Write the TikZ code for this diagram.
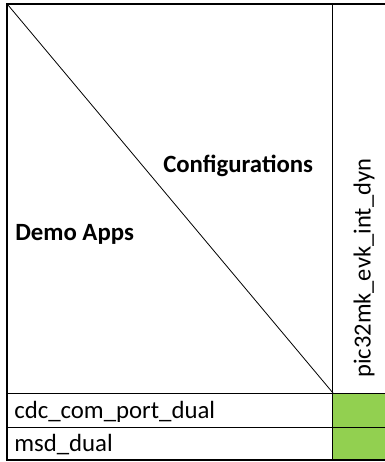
\documentclass[tikz,border=0pt]{standalone}
\usepackage{fontspec}
\setmainfont{Carlito}
\definecolor{cellgreen}{HTML}{92D050}
\begin{document}
\begin{tikzpicture}[x=0.75pt,y=-0.75pt,
  outer/.style={line width=1.5pt,black},
  inner/.style={line width=0.75pt,black},
  diag/.style={line width=0.6pt,black},
  txt/.style={inner sep=0pt,anchor=base west,font=\fontsize{18.6}{22}\selectfont},
  btxt/.style={txt,font=\fontsize{18.6}{22}\selectfont\bfseries}]
\useasboundingbox (0,0) rectangle (385,462);
\fill[cellgreen] (333,393) rectangle (385,460);
\draw[diag] (8,5) -- (333,393);
\draw[inner] (333,4) -- (333,460);
\draw[inner] (7,393) -- (385,393);
\draw[inner] (7,427) -- (385,427);
\draw[outer] (7.5,3.75) -- (385,3.75);
\draw[outer] (7.5,3) -- (7.5,461);
\draw[outer] (7,460.25) -- (385,460.25);
\node[btxt] (conf) at (163,172) {Configurations};
\node[btxt] (demo) at (15,240.5) {Demo Apps};
\node[txt] (cdc) at (14,418) {cdc\_com\_port\_dual};
\node[txt] (msd) at (14,451.5) {msd\_dual};
\node[inner sep=0pt,anchor=west,rotate=90,font=\fontsize{18.4}{22}\selectfont] (cfg) at (364,378) {pic32mk\_evk\_int\_dyn};
\end{tikzpicture}
\end{document}
